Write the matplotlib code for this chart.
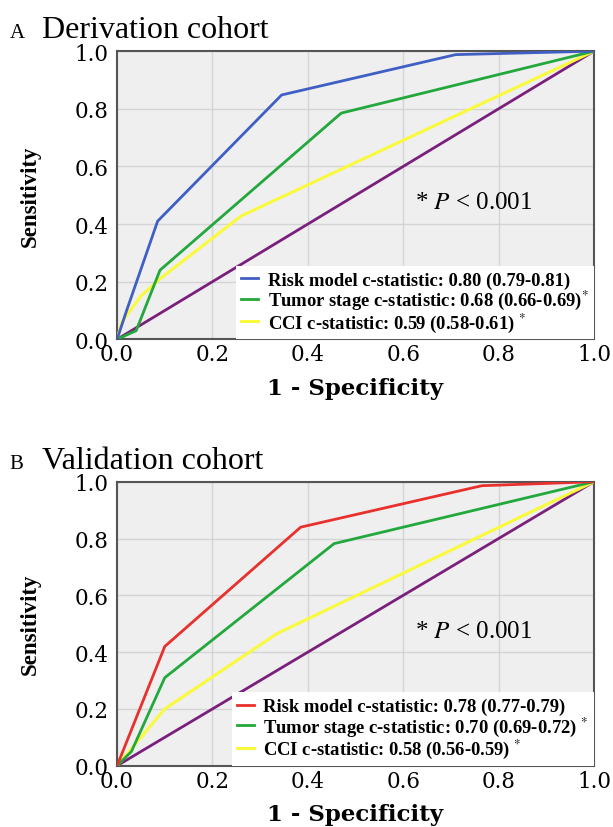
import matplotlib.pyplot as plt

plt.rcParams['mathtext.fontset'] = 'stix'

# Panel A - derivation cohort (1 - specificity, sensitivity)
a_risk_x = [0.0, 0.02, 0.085, 0.345, 0.71, 1.0]
a_risk_y = [0.0, 0.10, 0.41, 0.848, 0.988, 1.0]
a_stage_x = [0.0, 0.04, 0.09, 0.47, 1.0]
a_stage_y = [0.0, 0.03, 0.24, 0.785, 1.0]
a_cci_x = [0.0, 0.01, 0.05, 0.09, 0.26, 1.0]
a_cci_y = [0.0, 0.06, 0.15, 0.21, 0.428, 1.0]
a_labels = ['Risk model c-statistic: 0.80 (0.79-0.81)',
            'Tumor stage c-statistic: 0.68 (0.66-0.69)$^{*}$',
            'CCI c-statistic: 0.59 (0.58-0.61) $^{*}$']

# Panel B - validation cohort
b_risk_x = [0.0, 0.10, 0.385, 0.765, 1.0]
b_risk_y = [0.0, 0.42, 0.84, 0.986, 1.0]
b_stage_x = [0.0, 0.03, 0.10, 0.455, 1.0]
b_stage_y = [0.0, 0.05, 0.31, 0.782, 1.0]
b_cci_x = [0.0, 0.10, 0.335, 1.0]
b_cci_y = [0.0, 0.20, 0.465, 1.0]
b_labels = ['Risk model c-statistic: 0.78 (0.77-0.79)',
            'Tumor stage c-statistic: 0.70 (0.69-0.72) $^{*}$',
            'CCI c-statistic: 0.58 (0.56-0.59) $^{*}$']

ticks = [0.0, 0.2, 0.4, 0.6, 0.8, 1.0]
tick_labels = ['0.0', '0.2', '0.4', '0.6', '0.8', '1.0']

fig = plt.figure(figsize=(6.13, 8.28), dpi=100)


def draw_panel(rect, letter, title, risk, stage, cci, labels, risk_color):
    ax = fig.add_axes(rect)
    ax.set_facecolor('#efefef')
    ax.plot([0, 1], [0, 1], color='#7a1f7c', lw=2.0, zorder=2)
    ax.plot(cci[0], cci[1], color='#fafa3c', lw=2.2, label=labels[2], zorder=3)
    ax.plot(stage[0], stage[1], color='#22a83c', lw=2.0, label=labels[1], zorder=4)
    ax.plot(risk[0], risk[1], color=risk_color, lw=2.0, label=labels[0], zorder=5)
    ax.set_xlim(0, 1)
    ax.set_ylim(0, 1)
    ax.set_xticks(ticks)
    ax.set_yticks(ticks)
    ax.set_xticklabels(tick_labels, family='DejaVu Serif', fontsize=15.5)
    ax.set_yticklabels(tick_labels, family='DejaVu Serif', fontsize=15.5)
    ax.tick_params(length=0, pad=6)
    ax.tick_params(axis='x', pad=3)
    ax.grid(True, color='#d4d4d4', lw=1.0)
    ax.set_axisbelow(True)
    for s in ax.spines.values():
        s.set_color('#555555')
        s.set_linewidth(1.5)
    ax.set_xlabel('1 - Specificity', family='DejaVu Serif', fontweight='bold',
                  fontsize=16.5, labelpad=8)
    ax.set_ylabel('Sensitivity', family='Liberation Serif', fontweight='bold',
                  fontsize=16.5, labelpad=24)
    ax.text(0.625, 0.475, '* $P$ < 0.001', transform=ax.transAxes,
            family='Liberation Serif', fontsize=18, va='center')
    h, l = ax.get_legend_handles_labels()
    leg = ax.legend(h[::-1], l[::-1], loc='lower right', bbox_to_anchor=(1, 0),
                    borderaxespad=0, frameon=True, fancybox=False,
                    handlelength=0.9, handletextpad=0.5, labelspacing=-0.05,
                    borderpad=0.3,
                    prop={'family': 'Liberation Serif', 'weight': 'bold', 'size': 13.4})
    leg.get_frame().set_edgecolor('none')
    leg.get_frame().set_facecolor('white')
    leg.get_frame().set_alpha(1)
    leg.set_zorder(10)
    fig.text(0.016, rect[1] + rect[3] + 0.017, letter, family='Liberation Serif',
             fontsize=15)
    fig.text(0.068, rect[1] + rect[3] + 0.017, title, family='Liberation Serif',
             fontsize=23)
    return ax


draw_panel([0.191, 0.589, 0.778, 0.348], 'A', 'Derivation cohort',
           (a_risk_x, a_risk_y), (a_stage_x, a_stage_y), (a_cci_x, a_cci_y),
           a_labels, '#3f5fc4')
draw_panel([0.191, 0.074, 0.778, 0.343], 'B', 'Validation cohort',
           (b_risk_x, b_risk_y), (b_stage_x, b_stage_y), (b_cci_x, b_cci_y),
           b_labels, '#e8302c')

fig.savefig('out.png', dpi=100)
